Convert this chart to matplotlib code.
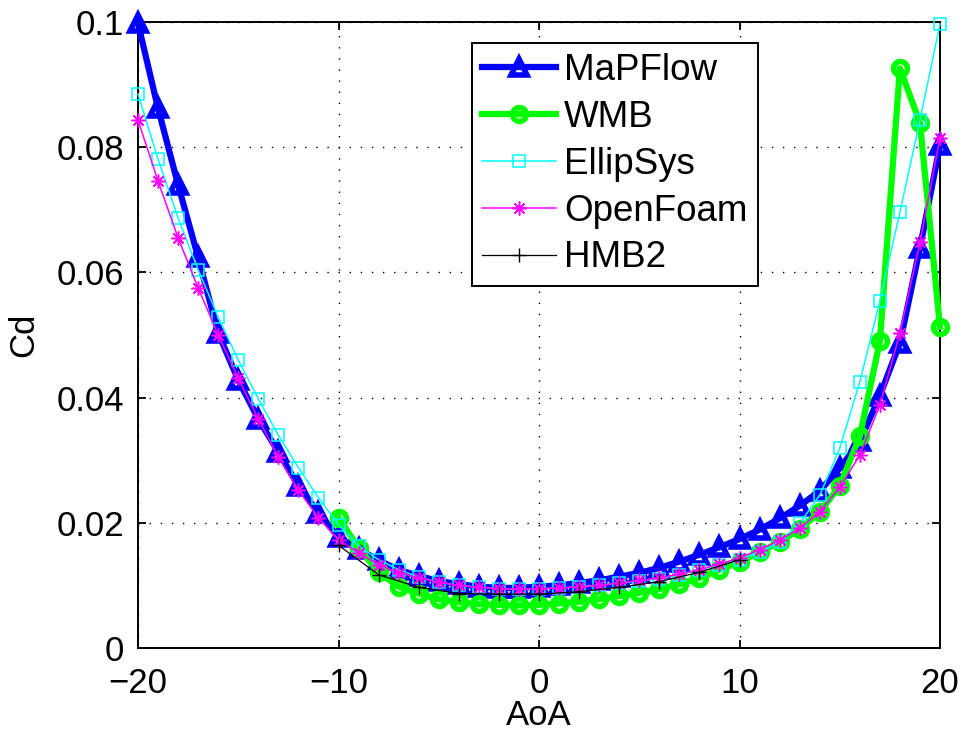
import numpy as np
import matplotlib
matplotlib.use("Agg")
import matplotlib.pyplot as plt

plt.rcParams['font.family'] = ['Liberation Sans', 'DejaVu Sans']

# Angle of attack (deg)
aoa_full = list(range(-20, 21))
aoa_wmb = list(range(-10, 21))
aoa_hmb2 = list(range(-10, 11, 2))

cd_mapflow = [0.0998, 0.0862, 0.0740, 0.0624, 0.0503, 0.0428, 0.0366, 0.0313, 0.0259, 0.0216,
              0.0177, 0.0158, 0.0140, 0.0125, 0.0115, 0.0107, 0.0102, 0.0098, 0.0096, 0.0096,
              0.0098, 0.0100, 0.0104, 0.0108, 0.0114, 0.0120, 0.0128, 0.0138, 0.0149, 0.0161,
              0.0174, 0.0189, 0.0207, 0.0227, 0.0251, 0.0287, 0.0330, 0.0403, 0.0487, 0.0639,
              0.0803]

cd_wmb = [0.0208, 0.0160, 0.0121, 0.0098, 0.0087, 0.0078, 0.0073, 0.0070, 0.0069, 0.0068,
          0.0069, 0.0071, 0.0074, 0.0078, 0.0083, 0.0088, 0.0094, 0.0102, 0.0112, 0.0125,
          0.0137, 0.0153, 0.0169, 0.0190, 0.0217, 0.0259, 0.0338, 0.0490, 0.0926, 0.0839,
          0.0513]

cd_ellipsys = [0.0885, 0.0781, 0.0687, 0.0604, 0.0529, 0.0460, 0.0398, 0.0340, 0.0288, 0.0240,
               0.0197, 0.0163, 0.0141, 0.0125, 0.0113, 0.0105, 0.0100, 0.0097, 0.0095, 0.0094,
               0.0095, 0.0096, 0.0098, 0.0100, 0.0104, 0.0107, 0.0111, 0.0117, 0.0125, 0.0133,
               0.0141, 0.0153, 0.0169, 0.0199, 0.0244, 0.0319, 0.0425, 0.0554, 0.0696, 0.0843,
               0.0997]

cd_openfoam = [0.0843, 0.0746, 0.0655, 0.0575, 0.0500, 0.0431, 0.0366, 0.0305, 0.0252, 0.0208,
               0.0173, 0.0152, 0.0133, 0.0120, 0.0112, 0.0105, 0.0100, 0.0097, 0.0095, 0.0094,
               0.0095, 0.0096, 0.0098, 0.0100, 0.0104, 0.0108, 0.0112, 0.0118, 0.0125, 0.0134,
               0.0144, 0.0157, 0.0172, 0.0191, 0.0218, 0.0257, 0.0308, 0.0388, 0.0503, 0.0648,
               0.0815]

cd_hmb2 = [0.0164, 0.0117, 0.0097, 0.0087, 0.0086, 0.0086, 0.0090, 0.0097, 0.0106, 0.0121, 0.0141]

x_ticks = [-20, -10, 0, 10, 20]
y_ticks = [0, 0.02, 0.04, 0.06, 0.08, 0.1]
y_tick_labels = ['0', '0.02', '0.04', '0.06', '0.08', '0.1']

FS = 25
LEG_FS = 26.5

fig = plt.figure(figsize=(9.62, 7.34), dpi=100)
ax = fig.add_axes([138 / 962, 86 / 734, 802 / 962, 626 / 734])

ax.plot(aoa_full, cd_mapflow, color=(0, 0, 1), lw=4.5, marker='^', ms=12,
        mfc='none', mec=(0, 0, 1), mew=4, label='MaPFlow', clip_on=False, zorder=3)
ax.plot(aoa_wmb, cd_wmb, color=(0, 1, 0), lw=4.5, marker='o', ms=10,
        mfc='none', mec=(0, 1, 0), mew=4, label='WMB', clip_on=False, zorder=4)
ax.plot(aoa_full, cd_ellipsys, color=(0, 1, 1), lw=1.1, marker='s', ms=9,
        mfc='none', mec=(0, 1, 1), mew=1.1, label='EllipSys', clip_on=False, zorder=5)
ax.plot(aoa_full, cd_openfoam, color=(1, 0, 1), lw=1.1, marker=(8, 2, 0), ms=10,
        mec=(1, 0, 1), mew=1.1, label='OpenFoam', clip_on=False, zorder=6)
ax.plot(aoa_hmb2, cd_hmb2, color='black', lw=0.9, marker='+', ms=10,
        mec='black', mew=1.0, label='HMB2', clip_on=False, zorder=7)

ax.set_xlim(-20, 20)
ax.set_ylim(0, 0.1)
ax.set_xticks(x_ticks)
ax.set_yticks(y_ticks)
ax.set_yticklabels(y_tick_labels)

ax.grid(True, color='black', linestyle=(0, (1, 7)), linewidth=1.0)
ax.set_axisbelow(True)

ax.tick_params(direction='in', length=6, width=1.3, top=True, right=True,
               labelsize=FS, pad=10)
ax.tick_params(axis='x', pad=14)
for s in ax.spines.values():
    s.set_linewidth(1.4)

ax.set_xlabel('AoA', fontsize=FS, labelpad=-1)
ax.set_ylabel('Cd', fontsize=FS, labelpad=12)

leg = ax.legend(loc='upper left', bbox_to_anchor=(0.4165, 0.9665), borderaxespad=0,
                fontsize=LEG_FS, frameon=True, fancybox=False, framealpha=1,
                edgecolor='black', handlelength=2.0, handletextpad=0.22,
                labelspacing=0.32, borderpad=0.28)
leg.get_frame().set_linewidth(1.4)

fig.savefig('out.png', dpi=100)
